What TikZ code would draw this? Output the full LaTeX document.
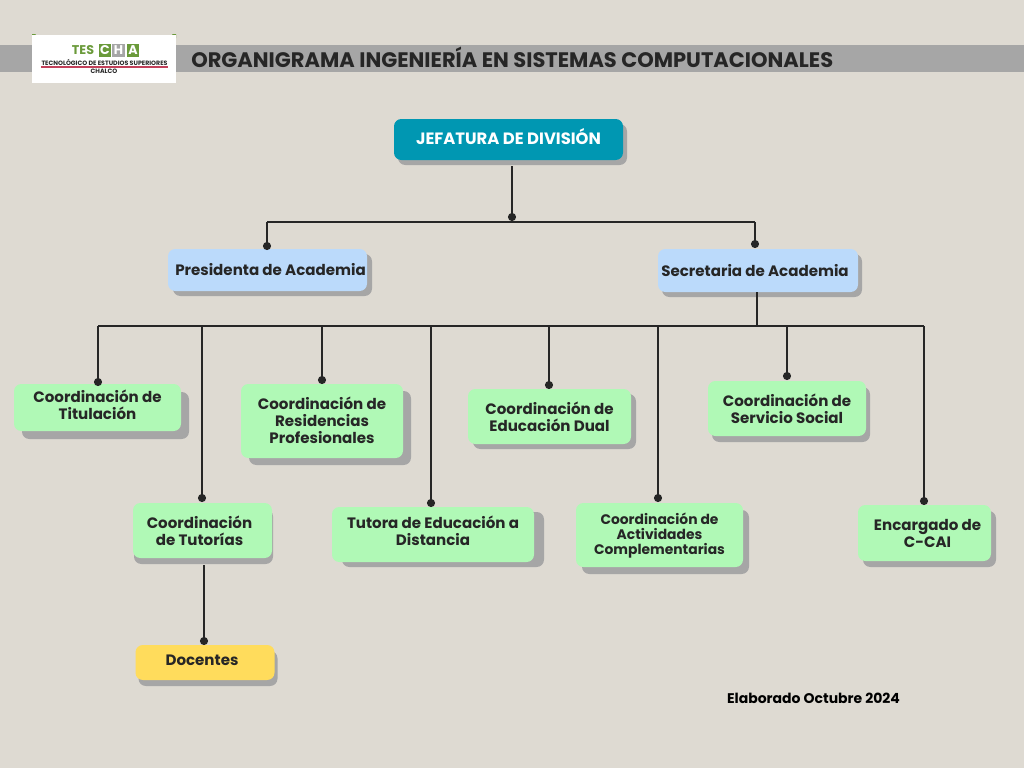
\documentclass[tikz,border=0pt]{standalone}
\usepackage{fontspec}
\setmainfont{Poppins}
\usetikzlibrary{arrows.meta,shadows}

\definecolor{stone}{HTML}{DEDAD2}
\definecolor{band}{HTML}{A6A6A6}
\definecolor{ink}{HTML}{262626}
\definecolor{teal}{HTML}{0097B2}
\definecolor{sky}{HTML}{BBDAFB}
\definecolor{mint}{HTML}{B0F9B6}
\definecolor{sun}{HTML}{FFDC5C}
\definecolor{leaf}{HTML}{6A9A3A}
\definecolor{redline}{HTML}{C2405A}

% 6px of padding, moves a line 3px off centre
\newcommand{\pad}{\hspace*{4.5pt}}

\tikzset{
  wire/.style={draw=ink, line width=1.4pt},
  dotwire/.style={wire, -{Circle[length=6pt,width=6pt]}},
  size/.style 2 args={minimum width=#1*0.75pt, minimum height=#2*0.75pt},
  lift/.style 2 args={copy shadow={fill=band, draw=none, shadow xshift=#1*0.75pt, shadow yshift=-#2*0.75pt}},
  card/.style={rounded corners=5.5pt, inner sep=0pt, align=center, text=ink,
    font=\fontsize{11.3}{12.8}\selectfont\bfseries},
  headcard/.style={card, fill=teal, text=white},
  midcard/.style={card, fill=sky},
  leafcard/.style={card, fill=mint},
  staffcard/.style={card, fill=sun},
  logotext/.style={inner sep=0pt, text=ink, font=\fontsize{4.7}{5}\selectfont\bfseries},
  logoletter/.style={fill=leaf, text=white, minimum width=9.7pt, minimum height=9.7pt, inner sep=0pt,
    font=\fontsize{9.5}{10}\selectfont\bfseries},
}

\begin{document}
\begin{tikzpicture}[x=0.75pt, y=-0.75pt]

\useasboundingbox (0,0) rectangle (1024,768);
\fill[stone] (0,0) rectangle (1024,768);

% Header
\fill[band] (0,45) rectangle (1024,72);
\node[anchor=west, inner sep=0pt, text=ink, font=\fontsize{15.75}{18}\selectfont\bfseries]
  (titulo) at (191,57.5) {ORGANIGRAMA INGENIERÍA EN SISTEMAS COMPUTACIONALES};

% Logo
\fill[leaf] (32,34) -- (36,34) -- (32,38) -- cycle;
\fill[leaf] (176,34) -- (172,34) -- (176,38) -- cycle;
\fill[white] (32,35) rectangle (176,83);
\node[logoletter, fill=none, text=leaf] (tes) at (83,50.5) {TES};
\node[logoletter] (logoc) at (105,50.5) {C};
\node[logoletter, fill=band] (logoh) at (118.5,50.5) {H};
\node[logoletter] (logoa) at (133,50.5) {A};
\node[logotext] (tecno) at (104.5,62.5) {TECNOLÓGICO DE ESTUDIOS SUPERIORES};
\fill[redline] (41,66.2) rectangle (168,67.5);
\node[logotext] (chalco) at (104,71.5) {CHALCO};

% Boxes
\node[headcard, size={229}{41}, lift={4}{5}, text depth=4.5pt, font=\fontsize{12.3}{14}\selectfont\bfseries]
  (jefatura) at (508.5,139.5) {JEFATURA DE DIVISIÓN};

\node[midcard, size={199}{42}, lift={5}{5}] (presidenta) at (267.5,270) {\pad Presidenta de Academia};
\node[midcard, size={200}{43}, lift={4}{5}] (secretaria) at (758,270.5) {Secretaria de Academia\pad};

\node[leafcard, size={167}{47}, lift={8}{8}, text depth=3.7pt] (titulacion) at (97.5,407.5) {Coordinación de\\Titulación};
\node[leafcard, size={162}{74}, lift={8}{7}, text depth=1.5pt] (residencias) at (322,421) {Coordinación de\\Residencias\\Profesionales};
\node[leafcard, size={163}{55}, lift={5}{5}] (dual) at (549.5,416.5) {Coordinación de\\Educación Dual};
\node[leafcard, size={158}{55}, lift={4}{6}] (servicio) at (787,408.5) {Coordinación de\\Servicio Social};
\node[leafcard, size={139}{55}, lift={1}{6}] (tutorias) at (202.5,530.5) {Coordinación\pad\\de Tutorías\pad};
\node[leafcard, size={202}{55}, lift={10}{5}, text depth=6pt] (tutora) at (433,534.5) {Tutora de Educación a\\Distancia};
\node[leafcard, size={167}{64}, lift={6}{7}, font=\fontsize{10.4}{11.25}\selectfont\bfseries]
  (actividades) at (659.5,535) {\rule{0pt}{10pt}Coordinación de\\Actividades\\Complementarias};
\node[leafcard, size={133}{56}, lift={5}{6}] (ccai) at (924.5,533) {\pad Encargado de\\\pad C-CAI};
\node[staffcard, size={139}{35}, lift={3}{6}, text depth=3pt] (docentes) at (205,662.5) {Docentes\pad};

\node[inner sep=0pt, text=black, font=\fontsize{10.5}{12}\selectfont\bfseries] (elaborado) at (813.5,698.5) {Elaborado Octubre 2024};

% Upper connectors
\coordinate (busA) at (512,222);
\coordinate (dotjef) at (512,221);
\coordinate (dotpres) at (267,250);
\coordinate (dotsec) at (755,248);
\draw[dotwire] (jefatura.south -| dotjef) ++(0,6) -- (dotjef);
\draw[dotwire] (busA -| dotpres) -- (dotpres);
\draw[dotwire] (busA -| dotsec) -- (dotsec);
\draw[wire] (busA -| dotpres) -- (busA -| dotsec);

% Lower connectors
\coordinate (busB) at (757,326);
\coordinate (busleft) at (98,326);
\coordinate (busright) at (924,326);
\draw[wire] (secretaria.south -| busB) -- (busB);
\draw[wire] (busleft) -- (busright);
\foreach \target/\x/\y in {titulacion/98/386, tutorias/202/502, residencias/322/384, tutora/431/507,
    dual/549/389, actividades/658/502, servicio/787/380, ccai/924/505} {
  \coordinate (dot\target) at (\x,\y);
  \draw[dotwire] (busB -| dot\target) -- (dot\target);
}

% Tutorias to docentes
\coordinate (dotdoc) at (204,645);
\draw[dotwire] (tutorias.south -| dotdoc) ++(0,7) -- (dotdoc);

\end{tikzpicture}
\end{document}
